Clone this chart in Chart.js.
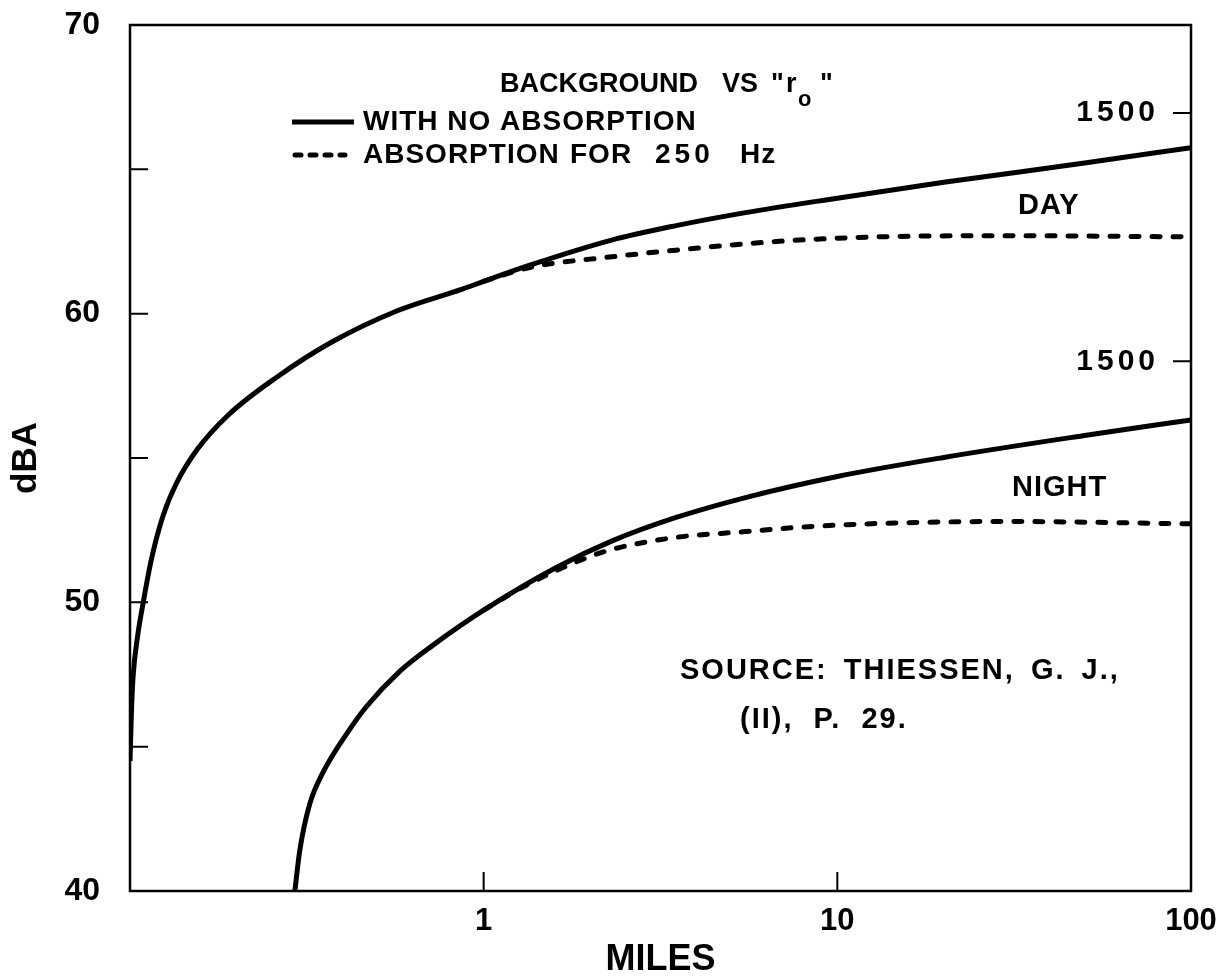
<!DOCTYPE html>
<html><head><meta charset="utf-8">
<script src="https://cdn.jsdelivr.net/npm/chart.js@4.4.1/dist/chart.umd.min.js"></script>
<style>html,body{margin:0;padding:0;background:#fff;} #wrap{width:1231px;height:978px;position:relative;}</style>
</head><body><div id="wrap"><canvas id="c" width="1231" height="978"></canvas></div>
<script>
// ---- data ----
const xTickValues = [1, 10, 100];
const yTickValues = [40, 45, 50, 55, 60, 65, 70];
const yLabelValues = [40, 50, 60, 70];

const dayNoAbsMiles = [0.1, 0.101, 0.102, 0.105, 0.109, 0.115, 0.124, 0.135, 0.155, 0.19, 0.26, 0.37, 0.57, 0.87, 1, 1.35, 2.3, 3.5, 5.5, 10, 20, 50, 100];
const dayNoAbsDBA   = [44.5, 46.3, 47.4, 48.8, 50.0, 51.5, 53.0, 54.1, 55.3, 56.5, 57.8, 59.0, 60.1, 60.85, 61.12, 61.68, 62.55, 63.05, 63.5, 64.0, 64.55, 65.22, 65.75];

const dayAbsMiles = [1, 1.35, 2.3, 3.5, 5.5, 7.8, 13, 30, 100];
const dayAbsDBA   = [61.12, 61.6, 61.97, 62.2, 62.42, 62.55, 62.66, 62.7, 62.66];

const nightNoAbsMiles = [0.2925, 0.302, 0.322, 0.351, 0.418, 0.467, 0.578, 0.716, 1, 1.6, 2.3, 3.5, 5.5, 10, 20, 50, 100];
const nightNoAbsDBA   = [40, 41.4, 43.0, 44.1, 45.6, 46.4, 47.6, 48.5, 49.73, 51.2, 52.12, 52.94, 53.63, 54.36, 55.02, 55.78, 56.32];

const nightAbsMiles = [1, 1.3, 1.87, 2.3, 3.5, 5.5, 7.8, 13, 30, 100];
const nightAbsDBA   = [49.73, 50.55, 51.45, 51.83, 52.25, 52.45, 52.6, 52.73, 52.8, 52.72];

const rangeMarkValues = [66.95, 58.35];   // "1500" marks on the right edge (dBA)
const rangeMarkLabels = ['1500', '1500'];

// ---- helpers ----
const FONT = "'Liberation Sans', Arial, sans-serif";
function pts(xs, ys) { return xs.map((v, i) => ({ x: v, y: ys[i] })); }
function lineDs(xs, ys, dashed) {
  return {
    data: pts(xs, ys),
    borderColor: '#000',
    borderWidth: 5,
    pointRadius: 0,
    fill: false,
    cubicInterpolationMode: 'monotone',
    borderDash: dashed ? [8, 13] : [],
    borderCapStyle: dashed ? 'round' : 'butt',
    borderJoinStyle: 'round'
  };
}

const decor = {
  id: 'decor',
  afterDraw(chart) {
    const { ctx, chartArea: { left, right, top, bottom }, scales: { x, y } } = chart;
    ctx.save();
    ctx.strokeStyle = '#000';
    ctx.fillStyle = '#000';
    ctx.setLineDash([]);
    // frame
    ctx.lineWidth = 2.5;
    ctx.strokeRect(left, top, right - left, bottom - top);
    // inner ticks
    ctx.lineWidth = 2;
    ctx.beginPath();
    yTickValues.forEach(v => {
      if (v > y.min && v < y.max) {
        const py = y.getPixelForValue(v);
        ctx.moveTo(left, py); ctx.lineTo(left + 18, py);
      }
    });
    xTickValues.forEach(v => {
      if (v > x.min && v < x.max) {
        const px = x.getPixelForValue(v);
        ctx.moveTo(px, bottom); ctx.lineTo(px, bottom - 19);
      }
    });
    rangeMarkValues.forEach(v => {
      const py = y.getPixelForValue(v);
      ctx.moveTo(right - 18, py); ctx.lineTo(right, py);
    });
    ctx.stroke();

    // "1500" labels
    ctx.textBaseline = 'middle';
    ctx.textAlign = 'right';
    ctx.font = 'bold 30px ' + FONT;
    ctx.letterSpacing = '4px';
    rangeMarkValues.forEach((v, i) => {
      ctx.fillText(rangeMarkLabels[i], right - 32, y.getPixelForValue(v));
    });
    ctx.letterSpacing = '0px';
    ctx.textAlign = 'left';

    // title  BACKGROUND VS "r0"
    ctx.textBaseline = 'alphabetic';
    ctx.font = 'bold 27px ' + FONT;
    ctx.fillText('BACKGROUND', 500, 92);
    ctx.fillText('VS', 722, 92);
    ctx.fillText('"', 771, 92);
    ctx.fillText('r', 786, 92);
    ctx.font = 'bold 22px ' + FONT;
    ctx.fillText('o', 798, 106);
    ctx.font = 'bold 27px ' + FONT;
    ctx.fillText('"', 820, 92);

    // legend
    ctx.lineWidth = 5;
    ctx.beginPath(); ctx.moveTo(292, 122); ctx.lineTo(354, 122); ctx.stroke();
    ctx.lineCap = 'round';
    ctx.setLineDash([6, 9]);
    ctx.beginPath(); ctx.moveTo(295, 155); ctx.lineTo(345, 155); ctx.stroke();
    ctx.setLineDash([]);
    ctx.lineCap = 'butt';
    ctx.textBaseline = 'middle';
    ctx.font = 'bold 28px ' + FONT;
    ctx.letterSpacing = '1px';
    ctx.fillText('WITH NO ABSORPTION', 363, 122);
    ctx.fillText('ABSORPTION', 363, 155);
    ctx.fillText('FOR', 570, 155);
    ctx.letterSpacing = '4px';
    ctx.fillText('250', 655, 155);
    ctx.letterSpacing = '1px';
    ctx.fillText('Hz', 740, 155);

    // curve labels
    ctx.font = 'bold 29px ' + FONT;
    ctx.fillText('DAY', 1018, 206);
    ctx.fillText('NIGHT', 1012, 488);

    // source
    ctx.letterSpacing = '2px';
    ctx.wordSpacing = '6px';
    ctx.fillText('SOURCE: THIESSEN, G. J.,', 680, 671);
    ctx.wordSpacing = '0px';
    ctx.fillText('(II),  P.  29.', 740, 720);
    ctx.letterSpacing = '0px';
    ctx.restore();
  }
};

new Chart(document.getElementById('c'), {
  type: 'line',
  data: {
    datasets: [
      lineDs(dayNoAbsMiles, dayNoAbsDBA, false),
      lineDs(dayAbsMiles, dayAbsDBA, true),
      lineDs(nightNoAbsMiles, nightNoAbsDBA, false),
      lineDs(nightAbsMiles, nightAbsDBA, true)
    ]
  },
  options: {
    responsive: false,
    animation: false,
    layout: { padding: { top: 25, right: 40, left: 0, bottom: 0 } },
    plugins: { legend: { display: false }, tooltip: { enabled: false } },
    scales: {
      x: {
        type: 'logarithmic',
        min: 0.1, max: 100,
        afterBuildTicks: s => { s.ticks = xTickValues.map(v => ({ value: v })); },
        afterFit: s => { s.height = 87; s.paddingLeft = 0; s.paddingRight = 0; },
        grid: { display: false },
        border: { display: false },
        ticks: {
          autoSkip: false, maxRotation: 0, minRotation: 0, padding: 4,
          color: '#000', font: { family: FONT, size: 31, weight: 'bold' },
          callback: v => String(v)
        },
        title: {
          display: true, text: 'MILES', color: '#000', padding: 0,
          font: { family: FONT, size: 36, weight: 'bold', lineHeight: 1 }
        }
      },
      y: {
        min: 40, max: 70,
        afterBuildTicks: s => { s.ticks = yTickValues.map(v => ({ value: v })); },
        afterFit: s => { s.width = 130; s.paddingTop = 0; s.paddingBottom = 0; },
        grid: { display: false },
        border: { display: false },
        ticks: {
          autoSkip: false, padding: 22,
          color: '#000', font: { family: FONT, size: 32, weight: 'bold' },
          callback: v => yLabelValues.includes(v) ? String(v) : ''
        },
        title: {
          display: true, text: 'dBA', color: '#000', padding: { top: 9, bottom: 0 },
          font: { family: FONT, size: 35, weight: 'bold', lineHeight: 1 }
        }
      }
    }
  },
  plugins: [decor]
});
</script>
</body></html>
